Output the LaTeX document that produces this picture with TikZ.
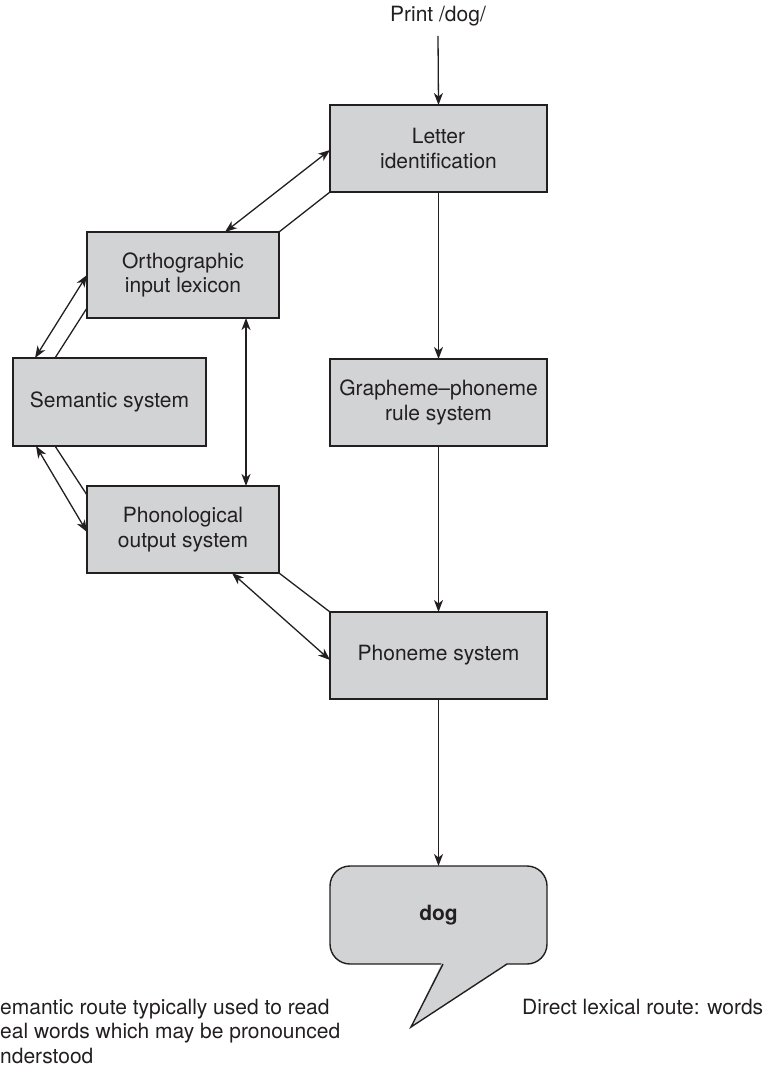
\documentclass[tikz,border=0pt]{standalone}
\usepackage{fontspec}
\setmainfont{TeX Gyre Heros}
\usetikzlibrary{arrows.meta}
\definecolor{boxgray}{RGB}{210,211,213}
\definecolor{ink}{RGB}{35,31,32}
\newcommand\diagfont{\fontsize{21}{24.5}\selectfont}
\begin{document}
\begin{tikzpicture}[x=1pt,y=-1pt,
  every node/.style={font=\diagfont, text=ink},
  box/.style={draw=ink, fill=boxgray, line width=1.4pt, align=center,
    minimum width=217pt, minimum height=87pt, inner sep=0pt, outer sep=0pt},
  note/.style={anchor=base west, inner sep=0pt},
  link/.style={draw=ink, line width=1.3pt},
  tip/.style={-{Stealth[length=12pt,width=9pt,inset=3.5pt]}},
  both/.style={{Stealth[length=12pt,width=9pt,inset=3.5pt]}-{Stealth[length=12pt,width=9pt,inset=3.5pt]}}
]
\useasboundingbox (0,0) rectangle (771,1070);

% boxes
\node[box] (letter) at (438.5,148.5) {Letter\\identification};
\node[box, minimum width=192pt, minimum height=86pt] (ortho) at (183,275) {Orthographic\\input lexicon};
\node[box, minimum width=193pt, minimum height=88pt] (sem) at (109.5,402) {Semantic system};
\node[box, minimum width=192pt] (phono) at (183,529.5) {Phonological\\output system};
\node[box] (graph) at (438.5,402.5) {Grapheme--phoneme\\rule system};
\node[box] (phoneme) at (438.5,655.5) {Phoneme system};
\node[box, rounded corners=20pt, minimum height=98pt, font=\diagfont\bfseries] (bubble) at (438.5,915) {dog};

% speech bubble tail
\coordinate (tailtip) at (411,1027);
\fill[boxgray] ([xshift=112pt,yshift=1.6pt]bubble.south west) -- ([xshift=178pt,yshift=1.6pt]bubble.south west) -- (tailtip) -- cycle;
\draw[link, line width=1.4pt, line join=miter] ([xshift=113pt]bubble.south west) -- (tailtip) -- ([xshift=177pt]bubble.south west);

% input label
\node[inner sep=0pt, anchor=base] (print) at (438,22) {Print /dog/};

% vertical flow
\draw[link, tip] ([yshift=-9pt]print.south) -- (letter.north);
\draw[link, tip] (letter.south) -- (graph.north);
\draw[link, tip] (graph.south) -- (phoneme.north);
\draw[link, tip] (phoneme.south) -- (bubble.north);

% connections
\draw[link, both] ([xshift=138pt]ortho.north west) -- ([yshift=-45pt]letter.north west);
\draw[link] (ortho.north east) -- (letter.south west);
\draw[link, both] ([xshift=22pt]sem.north west) -- (ortho.west);
\draw[link] ([xshift=42pt]sem.north west) -- ([yshift=10pt]ortho.south west);
\draw[link, both] ([xshift=23pt]sem.south west) -- ([yshift=-46pt]phono.north west);
\draw[link] ([xshift=42pt]sem.south west) -- ([yshift=-9pt]phono.north west);
\draw[link, both] ([xshift=159pt]ortho.south west) -- ([xshift=159pt]phono.north west);
\draw[link, both] ([xshift=145pt]phono.south west) -- ([yshift=-48pt]phoneme.north west);
\draw[link] (phono.south east) -- (phoneme.north west);

% bottom notes
\node[note] (semA) at (0,1014) {emantic route typically used to read};
\node[note] (semB) at (0,1038.5) {eal words which may be pronounced};
\node[note] (semC) at (0,1063) {nderstood};
\node[note] (direct) at (522,1014) {Direct lexical route: words};
\end{tikzpicture}
\end{document}
